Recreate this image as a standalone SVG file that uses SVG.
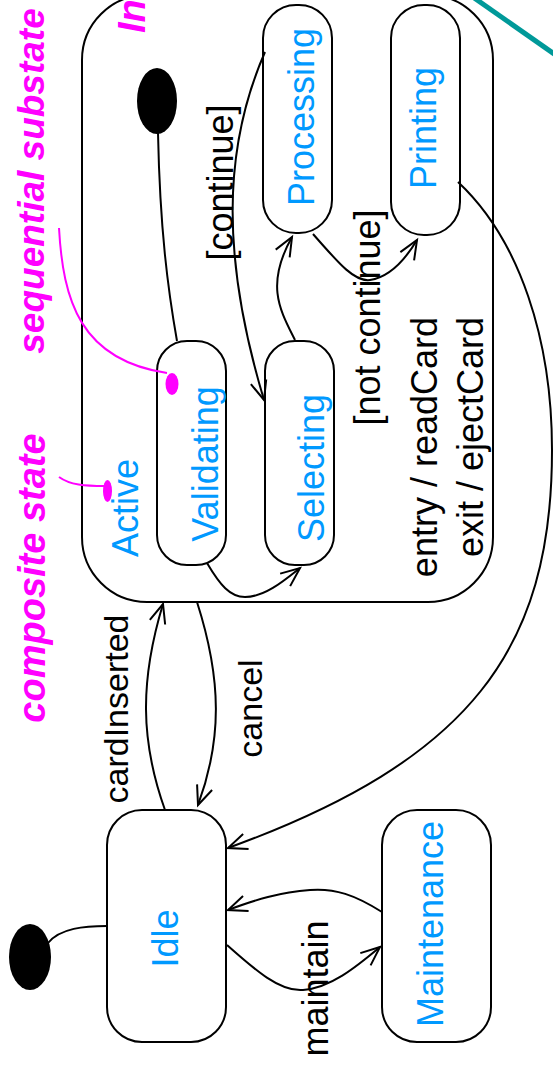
<svg xmlns="http://www.w3.org/2000/svg" width="553" height="1068" viewBox="0 0 553 1068">
<style>
.box{fill:#fff;stroke:#000;stroke-width:2}
.outer{fill:none;stroke:#000;stroke-width:2}
.dot{fill:#000}
.lbl{font-family:"Liberation Sans",Arial,sans-serif;font-size:36px;fill:#0099ff;text-anchor:middle}
.blk{font-family:"Liberation Sans",Arial,sans-serif;font-size:36px;fill:#000;text-anchor:middle}
.note{font-family:"Liberation Sans",Arial,sans-serif;font-weight:bold;font-style:italic;fill:#ff00ff;text-anchor:middle}
.edge{fill:none;stroke:#000;stroke-width:2}
.medge{fill:none;stroke:#ff00ff;stroke-width:2}
</style>
<defs>
<marker id="arr" markerUnits="userSpaceOnUse" markerWidth="24" markerHeight="24" viewBox="-22 -12 24 24" refX="0" refY="0" orient="auto" overflow="visible">
<path d="M-19,-8 L0,0 L-19,8" fill="none" stroke="#000" stroke-width="2"/>
</marker>
</defs>
<rect width="553" height="1068" fill="#fff"/>
<line x1="470" y1="-5" x2="560" y2="58" stroke="#009999" stroke-width="5"/>
<g id="active">
<rect class="outer" x="82" y="-5" width="411" height="607" rx="65" ry="65"/>
<text class="lbl" transform="translate(138,508) rotate(-90)">Active</text>
<text class="blk" style="text-anchor:end" transform="translate(437,317) rotate(-90)">entry / readCard</text>
<text class="blk" style="text-anchor:end" transform="translate(483,317) rotate(-90)">exit / ejectCard</text>
<text class="note" style="font-size:38px;text-anchor:start" transform="translate(145,33) rotate(-90)">In</text>
</g>
<g id="init-outer">
<ellipse class="dot" cx="30" cy="957" rx="21" ry="33"/>
</g>
<g id="init-inner">
<ellipse class="dot" cx="157" cy="101" rx="20" ry="33"/>
</g>
<g id="idle">
<rect class="box" x="107" y="810" width="119" height="232" rx="35" ry="35"/>
<text class="lbl" transform="translate(178,938.5) rotate(-90)">Idle</text>
</g>
<g id="maintenance">
<rect class="box" x="382" y="810" width="109" height="232" rx="35" ry="35"/>
<text class="lbl" transform="translate(443,924) rotate(-90)">Maintenance</text>
</g>
<g id="validating">
<rect class="box" x="157" y="341" width="69" height="224" rx="30" ry="30"/>
<text class="lbl" transform="translate(218,464) rotate(-90)">Validating</text>
</g>
<g id="selecting">
<rect class="box" x="265" y="341" width="69" height="224" rx="30" ry="30"/>
<text class="lbl" transform="translate(324,468) rotate(-90)">Selecting</text>
</g>
<g id="processing">
<rect class="box" x="263" y="5" width="69" height="228" rx="33" ry="33"/>
<text class="lbl" transform="translate(314,117) rotate(-90)">Processing</text>
</g>
<g id="printing">
<rect class="box" x="391" y="5" width="69" height="230" rx="33" ry="33"/>
<text class="lbl" transform="translate(436,128) rotate(-90)">Printing</text>
</g>
<g id="connectors">
<path class="edge" d="M48,943 C60,928 85,926 107,926"/>
<path class="edge" d="M158,133 C160,230 168,290 177,341"/>
<path class="edge" marker-end="url(#arr)" d="M165,810 C140,740 140,680 163,604"/>
<path class="edge" marker-end="url(#arr)" d="M197,602 C222,680 222,740 198,805"/>
<path class="edge" marker-end="url(#arr)" d="M207,563 C220,585 230,597 245,597 C265,597 285,580 300,568"/>
<path class="edge" marker-end="url(#arr)" d="M295,340 C280,310 265,285 292,237"/>
<path class="edge" marker-end="url(#arr)" d="M265,52 C222,150 222,260 264,400"/>
<path class="edge" marker-end="url(#arr)" d="M313,234 C340,265 355,282 370,280 C390,277 405,260 417,240"/>
<path class="edge" marker-end="url(#arr)" d="M458,182 C520,240 552,340 552,450 C552,650 470,760 228,848"/>
<path class="edge" marker-end="url(#arr)" d="M382,912 C355,895 335,888 310,890 C280,892 255,900 228,910"/>
<path class="edge" marker-end="url(#arr)" d="M227,945 C255,970 280,992 303,990 C330,988 355,968 380,947"/>
<text class="blk" style="font-size:34px" transform="translate(128,709) rotate(-90)">cardInserted</text>
<text class="blk" style="font-size:34px" transform="translate(262,708.5) rotate(-90)">cancel</text>
<text class="blk" transform="translate(233,182.5) rotate(-90)">[continue]</text>
<text class="blk" transform="translate(380,317.5) rotate(-90)">[not continue]</text>
<text class="blk" transform="translate(328,988.5) rotate(-90)">maintain</text>
</g>
<g id="note-sequential">
<path class="medge" d="M59,228 C63,300 80,360 167,373"/>
<ellipse cx="172" cy="384" rx="6.5" ry="11" fill="#ff00ff"/>
<text class="note" style="font-size:37px" transform="translate(44,181) rotate(-90)">sequential substate</text>
</g>
<g id="note-composite">
<path class="medge" d="M59,477 C70,485 85,486 105,486"/>
<ellipse cx="107.5" cy="491" rx="4.5" ry="11" fill="#ff00ff"/>
<text class="note" style="font-size:38px" transform="translate(45,578) rotate(-90)">composite state</text>
</g>
</svg>
